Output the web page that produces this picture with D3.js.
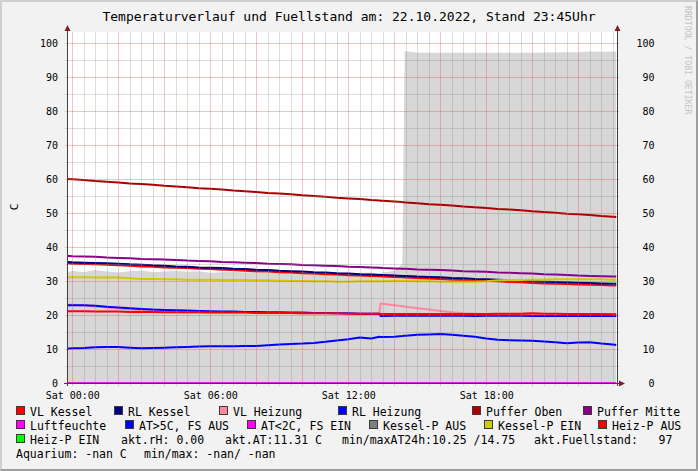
<!DOCTYPE html>
<html><head><meta charset="utf-8">
<script src="https://cdn.jsdelivr.net/npm/d3@7/dist/d3.min.js"></script>
<style>body{margin:0;background:#f2f2f2;overflow:hidden}svg{display:block}</style>
</head><body><svg id="c" width="698" height="471"></svg>
<script>
// ---------- DATA ----------
const hours = [-0.23,0,0.5,1,1.5,2,2.5,3,3.5,4,4.5,5,5.5,6,6.5,7,7.5,8,8.5,9,9.5,10,10.5,11,11.5,12,12.5,13,13.35,13.4,13.5,14,14.35,14.45,14.5,15,15.5,16,16.5,17,17.5,18,18.5,19,19.5,20,20.5,21,21.5,22,22.5,23,23.5,23.65];
const fuellArea = [32.4,33.0,32.6,33.2,32.8,32.5,32.9,33.1,32.6,32.8,33.0,32.7,32.9,32.4,32.6,32.8,32.5,32.7,32.4,32.6,32.3,32.5,32.2,32.4,32.5,32.3,32.4,32.5,32.3,32.4,32.5,33.0,35.0,97.6,97.6,97.2,97.1,97.1,97.1,97.1,97.1,97.1,97.1,97.1,97.1,97.1,97.2,97.2,97.3,97.3,97.5,97.4,97.5,97.5];
const pufferOben = [60.0,59.9,59.7,59.4,59.2,59.0,58.7,58.5,58.3,58.0,57.8,57.6,57.3,57.1,56.9,56.6,56.4,56.2,55.9,55.7,55.5,55.2,55.0,54.8,54.5,54.3,54.1,53.8,53.7,53.6,53.6,53.4,53.2,53.1,53.1,52.9,52.6,52.4,52.2,51.9,51.7,51.5,51.2,51.0,50.8,50.5,50.3,50.1,49.8,49.6,49.4,49.1,48.9,48.8];
const pufferMitte = [37.4,37.3,37.2,37.1,36.9,36.8,36.7,36.5,36.4,36.3,36.2,36.0,35.9,35.8,35.6,35.5,35.4,35.3,35.1,35.0,34.9,34.7,34.6,34.5,34.4,34.2,34.1,34.0,33.9,33.9,33.8,33.7,33.6,33.6,33.6,33.4,33.3,33.2,33.1,32.9,32.8,32.7,32.5,32.4,32.3,32.2,32.0,31.9,31.8,31.6,31.5,31.4,31.3,31.3];
const rlKessel = [35.6,35.5,35.4,35.3,35.2,35.1,34.9,34.8,34.6,34.5,34.3,34.2,34.0,33.9,33.8,33.6,33.5,33.3,33.2,33.0,32.9,32.8,32.6,32.5,32.3,32.2,32.0,31.9,31.8,31.8,31.8,31.6,31.5,31.5,31.5,31.3,31.2,31.1,30.9,30.8,30.6,30.5,30.4,30.2,30.1,29.9,29.8,29.7,29.6,29.5,29.4,29.3,29.2,29.2];
const vlKessel = [35.2,35.1,35.0,34.9,34.8,34.6,34.5,34.3,34.2,34.0,33.9,33.8,33.6,33.5,33.3,33.2,33.0,32.9,32.8,32.6,32.5,32.3,32.2,32.0,31.9,31.7,31.6,31.5,31.4,31.4,31.3,31.2,31.1,31.0,31.0,30.9,30.7,30.6,30.4,30.3,30.1,30.0,29.9,29.7,29.6,29.4,29.3,29.2,29.1,29.0,28.9,28.8,28.7,28.7];
const kesselPEin = [31.1,31.1,31.1,31.0,31.0,31.0,30.8,30.6,30.6,30.5,30.5,30.4,30.4,30.4,30.3,30.3,30.3,30.2,30.2,30.1,30.0,30.0,29.9,29.9,29.8,29.8,29.9,29.9,29.9,29.9,29.9,30.0,30.0,30.0,30.0,29.9,29.9,29.8,29.8,29.8,29.8,29.9,30.2,30.3,30.3,30.4,30.4,30.5,30.5,30.5,30.5,30.5,30.4,30.4];
const rlHeizung = [22.9,22.9,22.9,22.7,22.4,22.2,22.0,21.8,21.6,21.5,21.4,21.3,21.2,21.1,21.0,21.0,20.9,20.9,20.8,20.8,20.7,20.7,20.6,20.6,20.5,20.5,20.4,20.4,20.4,19.7,19.7,19.8,19.8,19.8,19.8,19.8,19.8,19.8,19.8,19.8,19.7,19.8,19.8,19.8,19.8,19.7,19.7,19.7,19.7,19.7,19.7,19.7,19.7,19.7];
const heizPAus = [21.1,21.1,21.1,21.0,21.0,21.0,20.9,20.9,20.9,20.8,20.8,20.8,20.8,20.7,20.7,20.7,20.7,20.6,20.6,20.6,20.6,20.5,20.5,20.5,20.5,20.4,20.4,20.4,20.4,20.3,20.3,20.3,20.3,20.3,20.3,20.3,20.3,20.3,20.3,20.3,20.3,20.3,20.4,20.4,20.4,20.5,20.4,20.4,20.3,20.3,20.3,20.3,20.2,20.2];
const vlHeizung = [23.1,23.0,22.8,22.5,22.2,21.9,21.6,21.4,21.2,21.0,20.9,20.8,20.8,20.7,20.7,20.7,20.7,20.6,20.6,20.6,20.6,20.5,20.5,20.5,20.5,20.4,20.4,20.4,20.4,23.4,23.3,22.9,22.6,22.5,22.4,22.0,21.6,21.2,20.8,20.5,20.4,20.3,20.3,20.3,20.3,20.4,20.3,20.3,20.3,20.3,20.3,20.3,20.2,20.2];
const aussenTemp = [10.1,10.2,10.3,10.5,10.6,10.6,10.4,10.2,10.3,10.4,10.5,10.6,10.7,10.8,10.8,10.8,10.9,10.9,11.1,11.3,11.5,11.6,11.8,12.1,12.5,12.9,13.4,13.1,13.6,13.5,13.5,13.6,13.8,13.9,13.9,14.2,14.3,14.4,14.2,13.9,13.6,13.1,12.7,12.6,12.5,12.4,12.2,12.0,11.7,11.9,12.0,11.6,11.3,11.2];
const luftfeuchte = [0,0,0,0,0,0,0,0,0,0,0,0,0,0,0,0,0,0,0,0,0,0,0,0,0,0,0,0,0,0,0,0,0,0,0,0,0,0,0,0,0,0,0,0,0,0,0,0,0,0,0,0,0,0];

const yTicks = [0,10,20,30,40,50,60,70,80,90,100];
const xTickHours = [0,6,12,18];
const xTickLabels = ["Sat 00:00","Sat 06:00","Sat 12:00","Sat 18:00"];
const titleText = "Temperaturverlauf und Fuellstand am: 22.10.2022, Stand 23:45Uhr";
const unitText = "C";
const legendRow1 = ["VL Kessel","RL Kessel","VL Heizung","RL Heizung","Puffer Oben","Puffer Mitte"];
const legendRow2 = ["Luftfeuchte","AT>5C, FS AUS","AT<2C, FS EIN","Kessel-P AUS","Kessel-P EIN","Heiz-P AUS"];
const legendRow3Box = "Heiz-P EIN";
const legendRow3Texts = ["akt.rH: 0.00","akt.AT:11.31 C","min/maxAT24h:10.25 /14.75","akt.Fuellstand:   97"];
const legendRow4Texts = ["Aquarium: -nan C","min/max: -nan/ -nan"];

// ---------- STYLE / LAYOUT ----------
const colRow1 = ["#ff0000","#000080","#ff88a0","#0000ff","#aa0000","#880088"];
const colRow2 = ["#ff00ff","#0000ff","#ff00ff","#808080","#cccc00","#ff0000"];
const colRow3 = "#00ff00";
const boxXRow1 = [16,114,219,338,472,583];
const boxXRow2 = [16,125,247,369,484,598];
const textXRow3 = [121,225,342,534];
const textXRow4 = [16,144];
const rowBase = [415.5,429.5,443.5,457.5];
const FONT = "'DejaVu Sans Mono', monospace";

const svg = d3.select("#c");
const W = 698, H = 471;
const PL = 67, PR = 617, PT = 32, PB = 383;

// background + 3D frame
svg.append("rect").attr("width",W).attr("height",H).attr("fill","#f2f2f2");
const fr = svg.append("g").attr("stroke-width",1).attr("fill","none");
fr.append("path").attr("d",`M0.5,${H}V0.5H${W}`).attr("stroke","#cfcfcf");
fr.append("path").attr("d",`M1.5,${H-1}V1.5H${W-1}`).attr("stroke","#cfcfcf");
fr.append("path").attr("d",`M0,${H-0.5}H${W-0.5}V0`).attr("stroke","#9e9e9e");
fr.append("path").attr("d",`M1,${H-1.5}H${W-1.5}V1`).attr("stroke","#9e9e9e");

// canvas
svg.append("rect").attr("x",PL).attr("y",PT).attr("width",PR-PL).attr("height",PB-PT).attr("fill","#ffffff");

// scales
const x = d3.scaleLinear().domain([0,24]).range([72.3, 72.3+23*24]);
const y = d3.scaleLinear().domain([0,100]).range([383,43]);

svg.append("clipPath").attr("id","cp").append("rect")
  .attr("x",PL).attr("y",PT).attr("width",PR-PL+1).attr("height",PB-PT+2);

const plot = svg.append("g").attr("clip-path","url(#cp)");

// gray area
const areaGen = d3.area().x((d,i)=>x(hours[i])).y0(y(0)).y1(d=>y(d));
plot.append("path").datum(fuellArea).attr("d",areaGen).attr("fill","#d7d7d7");

// grid
const grid = svg.append("g").attr("shape-rendering","crispEdges");
const vMinor = d3.range(0,24,0.5).filter(h=>h%2!==0 && x(h)<=PR);
const vMajor = d3.range(0,24,2).filter(h=>x(h)<=PR);
grid.selectAll(".vmi").data(vMinor).join("line")
  .attr("x1",d=>Math.round(x(d))+0.5).attr("x2",d=>Math.round(x(d))+0.5)
  .attr("y1",PT).attr("y2",PB+3).attr("stroke","rgba(140,140,140,0.3)");
grid.selectAll(".vma").data(vMajor).join("line")
  .attr("x1",d=>Math.round(x(d))+0.5).attr("x2",d=>Math.round(x(d))+0.5)
  .attr("y1",PT).attr("y2",PB+3).attr("stroke","rgba(222,79,79,0.35)");
const hMinor = d3.range(5,101,10);
grid.selectAll(".hmi").data(hMinor).join("line")
  .attr("x1",PL-2).attr("x2",PR+2)
  .attr("y1",d=>Math.round(y(d))+0.5).attr("y2",d=>Math.round(y(d))+0.5)
  .attr("stroke","rgba(140,140,140,0.3)");
grid.selectAll(".hma").data(yTicks.filter(v=>v>0)).join("line")
  .attr("x1",PL-2).attr("x2",PR+2)
  .attr("y1",d=>Math.round(y(d))+0.5).attr("y2",d=>Math.round(y(d))+0.5)
  .attr("stroke","rgba(222,79,79,0.35)");

// lines
const lineGen = d3.line().x((d,i)=>x(hours[i])).y(d=>y(d));
const series = [
  [vlHeizung,"#ff88a0"],
  [rlHeizung,"#0000ff"],
  [heizPAus,"#ff0000"],
  [aussenTemp,"#0000ff"],
  [vlKessel,"#ff0000"],
  [rlKessel,"#000080"],
  [kesselPEin,"#cccc00"],
  [pufferMitte,"#880088"],
  [pufferOben,"#aa0000"]
];
series.forEach(([vals,col])=>{
  plot.append("path").datum(vals).attr("d",lineGen).attr("fill","none")
    .attr("stroke",col).attr("stroke-width",2).attr("stroke-linejoin","round");
});

// axes lines
const ax = svg.append("g").attr("shape-rendering","crispEdges").attr("stroke","#404040");
ax.append("line").attr("x1",PL+0.5).attr("x2",PL+0.5).attr("y1",PB+3).attr("y2",PT-3);
ax.append("line").attr("x1",PR+0.5).attr("x2",PR+0.5).attr("y1",PB+3).attr("y2",PT-3);
ax.append("line").attr("x1",PL-3).attr("x2",PR+3).attr("y1",PB+0.5).attr("y2",PB+0.5);

// humidity at zero drawn over axis
plot.append("path").datum(luftfeuchte).attr("d",lineGen).attr("fill","none")
  .attr("stroke","#e020e0").attr("stroke-width",2);

// arrows
const arrowCol = "#801f1f";
svg.append("path").attr("d",`M${PL-2.5},${PT-1}L${PL+3.5},${PT-1}L${PL+0.5},${PT-7}Z`).attr("fill",arrowCol);
svg.append("path").attr("d",`M${PR-2.5},${PT-1}L${PR+3.5},${PT-1}L${PR+0.5},${PT-7}Z`).attr("fill",arrowCol);
svg.append("path").attr("d",`M${PR+2},${PB-2.5}L${PR+2},${PB+3.5}L${PR+8},${PB+0.5}Z`).attr("fill",arrowCol);

// y axes labels
const yAxL = d3.axisLeft(y).tickValues(yTicks).tickSize(0).tickPadding(0).tickFormat(d=>String(d));
const gL = svg.append("g").attr("transform","translate(58,0)").call(yAxL);
const gR = svg.append("g").attr("transform","translate(654.5,0)").call(yAxL);
[gL,gR].forEach(g=>{
  g.select(".domain").remove();
  g.selectAll("text").attr("font-family",FONT).attr("font-size","10px").attr("fill","#000");
});

// x axis labels
const xAx = d3.axisBottom(x).tickValues(xTickHours).tickSize(0).tickPadding(0)
  .tickFormat((d,i)=>xTickLabels[i]);
const gX = svg.append("g").attr("transform","translate(0,391.5)").call(xAx);
gX.select(".domain").remove();
gX.selectAll("text").attr("font-family",FONT).attr("font-size","10px").attr("fill","#000");

// title
svg.append("text").attr("x",349).attr("y",21).attr("text-anchor","middle")
  .attr("font-family",FONT).attr("font-size","13px").attr("fill","#000").text(titleText);

// unit label
svg.append("text").attr("transform","translate(18,207) rotate(-90)").attr("text-anchor","middle")
  .attr("font-family",FONT).attr("font-size","11px").attr("fill","#000").text(unitText);

// watermark
svg.append("text").attr("transform","translate(685,6) rotate(90)").attr("text-anchor","start")
  .attr("font-family",FONT).attr("font-size","8.2px").attr("fill","#c4c4c4").text("RRDTOOL / TOBI OETIKER");

// legend
const lg = svg.append("g").attr("font-family",FONT).attr("font-size","11.5px").attr("fill","#000");
function legItem(bx, base, col, label){
  lg.append("rect").attr("x",bx+0.5).attr("y",base-9.5).attr("width",8).attr("height",8)
    .attr("fill",col).attr("stroke","#3a3a3a").attr("stroke-width",1).attr("shape-rendering","crispEdges");
  lg.append("text").attr("x",bx+14).attr("y",base).text(label);
}
legendRow1.forEach((t,i)=>legItem(boxXRow1[i],rowBase[0],colRow1[i],t));
legendRow2.forEach((t,i)=>legItem(boxXRow2[i],rowBase[1],colRow2[i],t));
legItem(16,rowBase[2],colRow3,legendRow3Box);
legendRow3Texts.forEach((t,i)=>lg.append("text").attr("x",textXRow3[i]).attr("y",rowBase[2]).attr("xml:space","preserve").style("white-space","pre").text(t));
legendRow4Texts.forEach((t,i)=>lg.append("text").attr("x",textXRow4[i]).attr("y",rowBase[3]).text(t));
</script>
</body></html>
